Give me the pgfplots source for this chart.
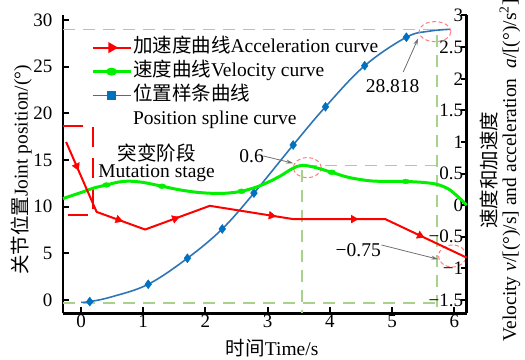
\documentclass[border=0pt]{standalone}
\usepackage{fontspec}
\setmainfont{Liberation Serif}
\newfontfamily\cjk{Noto Sans CJK SC}
\usepackage{pgfplots}
\pgfplotsset{compat=1.18}
\usetikzlibrary{arrows.meta}
\definecolor{guide}{HTML}{A9D18E}
\definecolor{vgreen}{HTML}{00F000}
\definecolor{pblue}{HTML}{2E75B6}
\definecolor{mblue}{HTML}{0070C0}
\definecolor{ared}{HTML}{FF0000}
\definecolor{ering}{HTML}{FF7C80}
\definecolor{agray}{HTML}{707070}
\newcommand{\lbl}{\fontsize{19.5bp}{21bp}\selectfont}
\begin{document}
\begin{tikzpicture}
\pgfplotsset{
  every axis/.append style={
    scale only axis, width=403.7bp, height=297.8bp,
    xmin=-0.29, xmax=6.2, clip=false,
    tick align=inside,
    axis line style={line width=2.8bp, black},
    major tick style={line width=2bp, black},
    major tick length=6bp,
    font=\lbl,
    tick label style={font=\fontsize{19bp}{21bp}\selectfont},
    /pgf/number format/assume math mode=true,
  },
}
\begin{axis}[name=L,
  axis y line*=left, axis x line*=bottom,
  ymin=-1.43, ymax=30.48,
  xtick={0,1,2,3,4,5,6}, ytick={0,5,10,15,20,25,30},
  yticklabel style={xshift=-7bp},
  xticklabel style={yshift=2bp},
  xlabel={{\cjk 时间}Time/s},
  ylabel={{\cjk 关节位置}Joint position/(°)},
  every axis x label/.style={at={(axis description cs:0.518,-0.117)}, anchor=center},
  every axis y label/.style={at={(axis description cs:-0.1028,0.481)}, anchor=center, rotate=90},
]
% guide lines
\draw[guide, line width=1.3bp, dash pattern=on 12bp off 8bp] (axis cs:-0.29,29.0) -- (axis cs:5.72,29.0) -- (axis cs:5.72,-1.43);
\draw[guide, line width=1.3bp, dash pattern=on 12bp off 8bp] (axis cs:-0.29,-0.32) -- (axis cs:5.72,-0.32);
% mutation stage box
\draw[ared, line width=2.5bp, dash pattern=on 20bp off 11bp] (axis cs:-0.29,18.65) -- (axis cs:0.19,18.65) -- (axis cs:0.19,9.1) -- (axis cs:-0.29,9.1);
% position spline
\addplot[pblue, line width=1.6bp, smooth, tension=0.6, forget plot] coordinates {
(0,-0.25) (0.14,-0.18) (0.5,0.35) (1.08,1.68) (1.71,4.47) (2.27,7.61) (2.78,11.45) (3.41,16.6) (3.93,20.7) (4.56,25.1) (5.23,28.15) (5.6,28.8) (5.93,29.0)};
\addplot[only marks, mark=diamond*, mark size=4.5bp, mblue, forget plot] coordinates {
(0.14,-0.18) (1.08,1.68) (1.71,4.47) (2.27,7.61) (2.78,11.45) (3.41,16.6) (3.93,20.7) (4.56,25.1) (5.23,28.15)};
% annotations
\node[font=\lbl] at (axis cs:1.215,15.72) {\cjk 突变阶段};
\node[font=\lbl] at (axis cs:1.215,13.58) {Mutation stage};
\node[font=\lbl] at (axis cs:2.743,15.43) {0.6};
\draw[agray, line width=0.8bp, -{Stealth[length=7bp,width=4bp]}] (axis cs:2.93,15.43) -- (axis cs:3.41,14.65);
\draw[ering, line width=1bp, dash pattern=on 4bp off 2.5bp] (axis cs:3.637,14.18) ellipse [x radius=14bp, y radius=10bp];
\node[font=\lbl] at (axis cs:5.01,22.93) {28.818};
\draw[agray, line width=0.8bp, -{Stealth[length=7bp,width=4bp]}] (axis cs:5.18,24.43) -- (axis cs:5.42,28.04);
\draw[ering, line width=1bp, dash pattern=on 4bp off 2.5bp] (axis cs:5.69,28.75) ellipse [x radius=16bp, y radius=10bp];
\node[font=\lbl] at (axis cs:4.457,5.36) {−0.75};
\draw[agray, line width=0.8bp, -{Stealth[length=7bp,width=4bp]}] (axis cs:4.83,5.89) -- (axis cs:5.74,4.36);
\draw[ering, line width=1bp, dash pattern=on 4bp off 2.5bp] (axis cs:5.97,4.71) ellipse [x radius=14bp, y radius=11bp];
\end{axis}
\begin{axis}[
  axis y line*=right, axis x line=none,
  ymin=-1.71, ymax=3.0,
  ytick={-1.5,-1,-0.5,0,0.5,1,1.5,2,2.5,3},
  yticklabels={−1.5,−1,−0.5,0,0.5,1,1.5,2,2.5,3},
  yticklabel style={anchor=east},
  ylabel={{\cjk 速度和加速度}\\Velocity \textit{v}/[(°)/s] and acceleration\ \ \textit{a}/[(°)/s\textsuperscript{2}]},
  every axis y label/.style={at={(axis description cs:1.0825,0.48)}, anchor=center, rotate=90, align=center, font=\fontsize{19.5bp}{20bp}\selectfont},
  legend style={at={(axis description cs:0.069,0.928)}, anchor=north west, draw=none, fill=none, inner sep=0pt, font=\lbl, row sep=3bp, nodes={inner sep=1bp, text height=14bp, text depth=5bp}},
  legend cell align=left,
  legend image code/.code={\draw[mark repeat=2,mark phase=2,#1] plot coordinates {(0bp,0bp) (19bp,0bp) (38bp,0bp)};},
]
\draw[guide, line width=1.3bp, dash pattern=on 12bp off 8bp] (axis cs:5.72,0.63) -- (axis cs:3.55,0.63) -- (axis cs:3.55,-1.71);
% velocity
\addplot[vgreen, line width=3bp, smooth, tension=0.55, forget plot] coordinates {
(-0.29,0.105) (0,0.2) (0.2,0.27) (0.41,0.32) (0.6,0.365) (0.76,0.38) (1.0,0.36) (1.3,0.30) (1.6,0.24) (1.9,0.2) (2.2,0.185) (2.4,0.195) (2.58,0.22) (2.8,0.28) (3.0,0.36) (3.2,0.46) (3.4,0.58) (3.55,0.63) (3.75,0.6) (4.03,0.52) (4.3,0.44) (4.65,0.385) (5.0,0.375) (5.22,0.375) (5.5,0.36) (5.72,0.33) (5.9,0.26) (6.03,0.16) (6.12,0.08) (6.2,0.0)};
\addplot[only marks, mark=*, mark size=2.4bp, vgreen, mark options={xscale=1.6}, forget plot] coordinates {
(0.41,0.32) (1.3,0.30) (2.58,0.22) (4.03,0.52) (5.22,0.375)};
% acceleration
\addplot[ared, line width=2bp, forget plot] coordinates {
(-0.24,1.0) (0.25,-0.106) (1.03,-0.385) (2.07,-0.01) (3.41,-0.22) (4.89,-0.22) (6.2,-0.83)};
\addplot[only marks, mark=triangle*, mark size=4.5bp, ared, mark options={rotate=-156}, forget plot] coordinates {(-0.07,0.616)};
\addplot[only marks, mark=triangle*, mark size=4.5bp, ared, mark options={rotate=-110}, forget plot] coordinates {(0.60,-0.231)};
\addplot[only marks, mark=triangle*, mark size=4.5bp, ared, mark options={rotate=-70}, forget plot] coordinates {(1.51,-0.212)};
\addplot[only marks, mark=triangle*, mark size=4.5bp, ared, mark options={rotate=-99}, forget plot] coordinates {(3.06,-0.165)};
\addplot[only marks, mark=triangle*, mark size=4.5bp, ared, mark options={rotate=-90}, forget plot] coordinates {(4.38,-0.22)};
\addplot[only marks, mark=triangle*, mark size=4.5bp, ared, mark options={rotate=-115}, forget plot] coordinates {(5.45,-0.481)};
% legend
\addlegendimage{ared, line width=2bp, mark=triangle*, mark size=4.5bp, mark options={rotate=-90}}
\addlegendentry{{\cjk 加速度曲线}Acceleration curve}
\addlegendimage{vgreen, line width=3bp, mark=*, mark size=2.4bp, mark options={xscale=1.6}}
\addlegendentry{{\cjk 速度曲线}Velocity curve}
\addlegendimage{pblue, line width=1.6bp, mark=square*, mark size=3.5bp, mark options={mblue}}
\addlegendentry{{\cjk 位置样条曲线}}
\addlegendimage{empty legend}
\addlegendentry{Position spline curve}
\end{axis}
\pgfresetboundingbox
\path[use as bounding box] ([shift={(-63bp,-46.7bp)}]L.south west) rectangle ++(525bp,360bp);
\end{tikzpicture}
\end{document}
